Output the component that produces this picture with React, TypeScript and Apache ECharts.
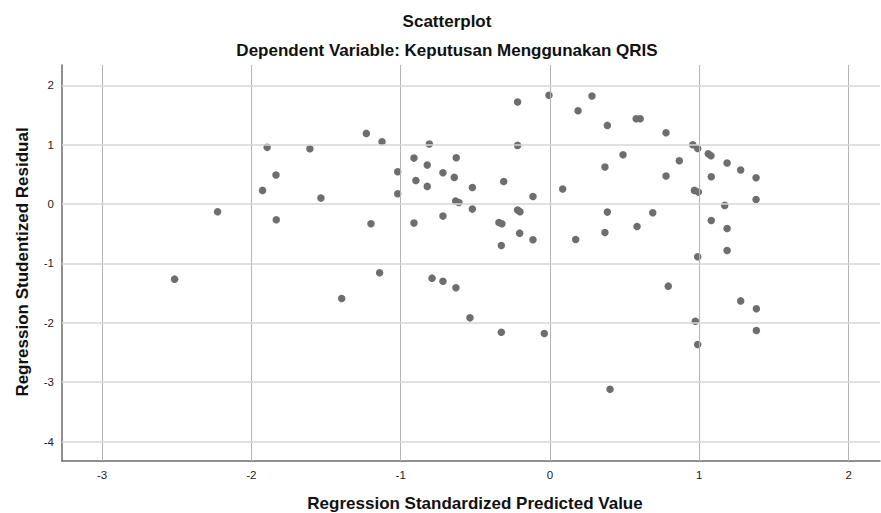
import React, { useEffect, useRef } from "react";
import * as echarts from "echarts";

const predicted: number[] = [
  -2.514, -2.226, -1.925, -1.894, -1.835, -1.833, -1.608, -1.534, -1.395, -1.23,
  -1.199, -1.141, -1.125, -1.02, -1.02, -0.911, -0.911, -0.898, -0.822, -0.822,
  -0.808, -0.79, -0.717, -0.717, -0.717, -0.641, -0.628, -0.632, -0.61, -0.63,
  -0.536, -0.52, -0.52, -0.342, -0.322, -0.326, -0.326, -0.31, -0.217, -0.217,
  -0.217, -0.201, -0.203, -0.114, -0.114, -0.038, -0.007, 0.085, 0.172, 0.188,
  0.281, 0.368, 0.368, 0.384, 0.384, 0.402, 0.489, 0.577, 0.604, 0.583,
  0.688, 0.777, 0.777, 0.792, 0.866, 0.956, 0.989, 0.967, 0.993, 0.989,
  0.973, 0.989, 1.06, 1.078, 1.08, 1.08, 1.17, 1.186, 1.186, 1.186,
  1.277, 1.277, 1.38, 1.38, 1.382, 1.382,
];

const residual: number[] = [
  -1.264, -0.13, 0.231, 0.956, 0.489, -0.264, 0.932, 0.101, -1.59, 1.191,
  -0.332, -1.157, 1.051, 0.545, 0.174, 0.775, -0.32, 0.399, 0.657, 0.298,
  1.011, -1.247, 0.528, -0.202, -1.298, 0.45, 0.781, 0.051, 0.028, -1.41,
  -1.916, 0.281, -0.084, -0.309, -0.332, -0.697, -2.157, 0.382, 1.719, 0.989,
  -0.101, -0.129, -0.489, 0.129, -0.601, -2.18, 1.832, 0.253, -0.595, 1.573,
  1.82, 0.624, -0.478, 1.326, -0.135, -3.118, 0.831, 1.438, 1.438, -0.376,
  -0.146, 1.202, 0.472, -1.382, 0.73, 1.0, 0.938, 0.231, 0.202, -0.888,
  -1.972, -2.365, 0.848, 0.815, 0.461, -0.275, -0.022, 0.691, -0.41, -0.781,
  0.573, -1.63, 0.443, 0.079, -1.764, -2.129,
];

const xTicks: number[] = [-3, -2, -1, 0, 1, 2];
const yTicks: number[] = [2, 1, 0, -1, -2, -3, -4];

const title = "Scatterplot";
const subtitle = "Dependent Variable: Keputusan Menggunakan QRIS";
const xTitle = "Regression Standardized Predicted Value";
const yTitle = "Regression Studentized Residual";

const FONT = "Liberation Sans, Arial, sans-serif";

export default function App() {
  const ref = useRef<HTMLDivElement>(null);

  useEffect(() => {
    if (!ref.current) return;
    const chart = echarts.init(ref.current, null, { renderer: "svg" });
    const points = predicted.map((x, i) => [x, residual[i]]);
    const gridLines = [
      ...xTicks.map((v) => ({
        xAxis: v,
        lineStyle: { color: "#b4b4b4", width: 1, type: "solid" },
      })),
      ...yTicks.map((v) => ({
        yAxis: v,
        lineStyle: { color: "#d6d6d6", width: 1.6, type: "solid" },
      })),
    ];
    chart.setOption({
      animation: false,
      backgroundColor: "#ffffff",
      textStyle: { fontFamily: FONT },
      grid: { left: 62, top: 65, right: 1, bottom: 52, containLabel: false },
      xAxis: {
        type: "value",
        min: -3.268,
        max: 2.21,
        axisLine: { show: true, onZero: false, lineStyle: { color: "#6a6a6a", width: 1.5 } },
        axisTick: { show: false, customValues: xTicks },
        axisLabel: {
          customValues: xTicks,
          color: "#222",
          fontSize: 11.5,
          margin: 8,
          fontFamily: FONT,
        },
        splitLine: { show: false },
      },
      yAxis: {
        type: "value",
        min: -4.327,
        max: 2.343,
        axisLine: { show: true, onZero: false, lineStyle: { color: "#6a6a6a", width: 1.5 } },
        axisTick: { show: false, customValues: yTicks },
        axisLabel: {
          customValues: yTicks,
          color: "#222",
          fontSize: 11.5,
          margin: 8,
          fontFamily: FONT,
        },
        splitLine: { show: false },
      },
      graphic: [
        {
          type: "text",
          x: 447,
          y: 21,
          style: {
            text: title,
            font: `bold 17px ${FONT}`,
            fill: "#111",
            textAlign: "center",
            textVerticalAlign: "middle",
          },
        },
        {
          type: "text",
          x: 447,
          y: 50,
          style: {
            text: subtitle,
            font: `bold 17px ${FONT}`,
            fill: "#111",
            textAlign: "center",
            textVerticalAlign: "middle",
          },
        },
        {
          type: "text",
          x: 475,
          y: 503,
          style: {
            text: xTitle,
            font: `bold 17px ${FONT}`,
            fill: "#111",
            textAlign: "center",
            textVerticalAlign: "middle",
          },
        },
        {
          type: "text",
          x: 22,
          y: 262,
          rotation: Math.PI / 2,
          style: {
            text: yTitle,
            font: `bold 17px ${FONT}`,
            fill: "#111",
            textAlign: "center",
            textVerticalAlign: "middle",
          },
        },
      ],
      series: [
        {
          type: "scatter",
          data: [],
          z: 1,
          silent: true,
          markLine: {
            silent: true,
            symbol: ["none", "none"],
            label: { show: false },
            animation: false,
            data: gridLines,
          },
        },
        {
          type: "scatter",
          z: 3,
          data: points,
          symbol: "circle",
          symbolSize: 7.5,
          itemStyle: { color: "#6e6e6e", opacity: 1 },
        },
      ],
    });
    return () => chart.dispose();
  }, []);

  return (
    <div
      ref={ref}
      style={{ position: "fixed", left: 0, top: 0, width: 881, height: 513 }}
    />
  );
}
